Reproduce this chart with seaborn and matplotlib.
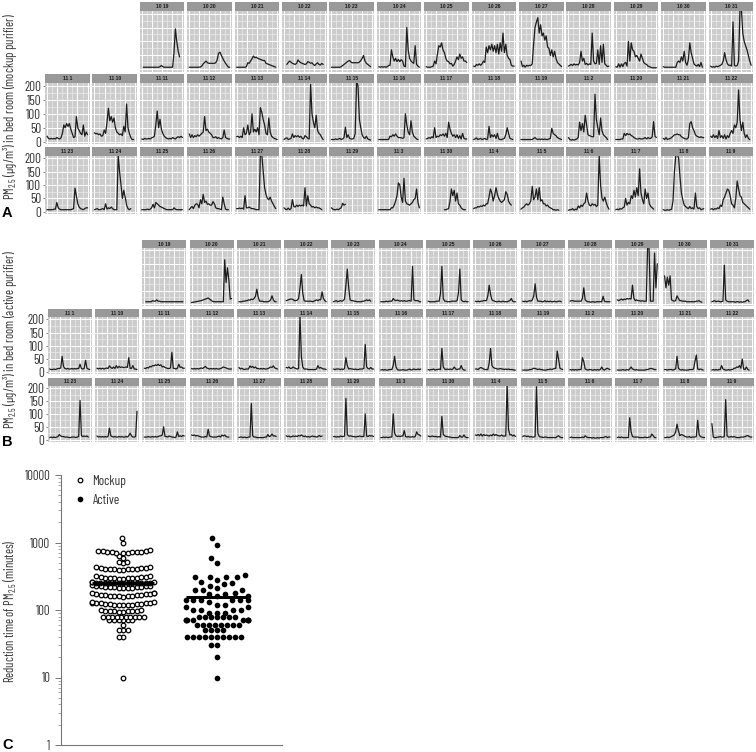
import numpy as np
import pandas as pd
import matplotlib
matplotlib.use('Agg')
import matplotlib.pyplot as plt
import seaborn as sns
from matplotlib.lines import Line2D
from matplotlib.patches import Rectangle
from matplotlib.ticker import NullFormatter, FixedLocator

N = None

# --- panel labels ---
days_row1 = ['10 19', '10 20', '10 21', '10 22', '10 23', '10 24', '10 25', '10 26', '10 27', '10 28', '10 29', '10 30', '10 31']
days_row2 = ['11 1', '11 10', '11 11', '11 12', '11 13', '11 14', '11 15', '11 16', '11 17', '11 18', '11 19', '11 2', '11 20', '11 21', '11 22']
days_row3 = ['11 23', '11 24', '11 25', '11 26', '11 27', '11 28', '11 29', '11 3', '11 30', '11 4', '11 5', '11 6', '11 7', '11 8', '11 9']

# --- A: mockup purifier ---
m1019 = [N,8,8,8,8,8,8,8,8,8,8,8,8,10,14,10,8,8,8,8,8,8,8,60,145,100,65,45,N,N]
m1020 = [8,8,8,8,8,8,8,8,9,12,20,25,30,24,22,22,22,22,22,24,35,58,62,50,40,30,22,15,8,8]
m1021 = [8,8,8,8,8,8,8,10,24,22,30,38,48,42,44,40,38,36,34,32,32,22,20,18,16,14,12,10,8,N]
m1022 = [N,N,18,25,30,26,22,20,18,22,34,28,24,22,20,18,20,28,26,22,24,18,14,20,24,18,16,22,18,N]
m1023 = [8,8,8,8,8,8,8,10,14,18,22,26,30,32,26,24,24,24,24,24,26,32,40,50,30,22,18,14,10,N]
m1024 = [10,8,10,8,10,8,10,14,15,70,45,30,40,28,36,28,35,30,12,10,150,70,40,30,25,22,85,18,12,8]
m1025 = [10,8,8,8,10,12,30,20,55,85,80,95,70,60,40,30,28,20,22,12,18,30,45,35,55,40,45,30,30,25]
m1026 = [12,10,18,15,20,15,20,30,25,80,60,85,70,90,65,85,60,90,55,95,65,130,60,90,50,40,35,15,12,12]
m1027 = [30,10,15,8,15,12,15,14,20,90,150,170,185,130,160,120,130,105,120,80,75,50,70,45,65,40,25,20,15,10]
m1028 = [12,15,18,14,20,16,18,16,25,65,30,40,18,22,16,20,18,130,30,20,22,70,18,85,25,90,20,15,10,12]
m1029 = [10,8,20,8,20,10,22,25,12,100,30,95,70,65,45,50,40,30,55,40,25,20,18,12,10,8,6,6,6,6]
m1030 = [10,8,8,8,8,8,8,8,8,8,25,30,25,45,30,65,25,15,35,95,60,40,20,15,12,18,10,25,8,N]
m1031 = [12,8,10,8,12,10,12,15,18,30,60,35,20,15,15,12,170,15,12,14,30,215,215,130,100,85,70,50,30,15]

m111 = [20,12,10,12,10,12,10,15,12,10,14,30,60,50,65,55,65,45,30,15,18,90,50,40,30,25,60,20,35,25]
m1110 = [32,28,30,25,28,20,22,42,30,70,120,75,90,70,85,50,35,30,25,28,22,55,35,135,50,30,15,8,8,N]
m1111 = [10,8,12,10,10,12,10,14,16,20,60,110,50,80,45,30,20,15,12,10,12,10,15,12,10,15,18,15,20,15]
m1112 = [28,15,25,15,22,18,25,20,25,30,35,90,40,45,35,30,25,15,15,18,12,15,12,10,15,42,15,12,10,10]
m1113 = [18,20,15,20,15,50,25,30,60,25,35,100,35,45,35,50,25,122,105,80,60,30,25,85,35,20,15,12,10,8]
m1114 = [8,12,14,8,10,12,28,15,22,18,22,16,20,12,10,22,18,12,10,205,100,70,50,95,40,30,25,15,8,N]
m1115 = [8,8,8,10,8,10,12,8,10,15,52,15,25,12,10,10,12,30,215,200,80,50,25,15,12,20,10,8,6,N]
m1116 = [8,8,8,8,8,8,8,8,20,18,25,20,28,20,15,15,14,12,15,100,60,35,25,75,35,20,15,10,8,N]
m1117 = [10,12,15,12,18,14,50,15,20,18,25,22,28,20,30,15,70,45,30,20,25,15,25,12,22,10,30,12,10,10]
m1118 = [8,10,14,8,10,12,8,10,12,8,10,55,15,25,18,25,12,30,10,8,8,10,12,25,50,30,12,10,8,N]
m1119 = [8,8,8,8,8,8,8,8,8,12,15,10,8,10,8,10,8,10,8,8,10,12,48,30,25,22,15,12,10,8]
m112 = [15,8,6,8,6,8,10,15,70,40,65,35,95,60,25,22,20,18,18,170,80,50,25,85,40,25,20,15,8,N]
m1120 = [8,8,8,8,10,10,30,22,30,25,28,22,20,15,12,10,10,12,10,10,12,15,10,15,12,12,18,72,20,15]
m1121 = [12,8,15,8,10,12,15,20,25,25,28,25,25,18,15,12,10,10,15,65,72,50,40,25,20,18,15,18,15,15]
m1122 = [20,15,25,15,22,12,40,15,22,12,25,10,22,15,30,40,30,60,50,70,185,80,40,70,30,15,25,12,8,N]

m1123 = [8,8,8,8,8,10,10,35,15,10,8,8,8,8,8,8,8,8,10,12,88,60,30,18,12,10,8,12,15,15]
m1124 = [8,10,12,8,8,10,12,8,30,10,15,12,18,12,8,8,8,210,150,100,50,80,55,25,12,8,12,N,N,N]
m1125 = [8,8,8,8,10,8,10,15,28,15,35,30,25,20,18,15,12,10,8,8,8,8,8,15,10,8,8,8,8,8]
m1126 = [8,15,20,12,25,30,28,15,45,30,65,35,40,28,30,25,25,38,30,15,12,12,10,8,55,30,10,8,8,N]
m1127 = [12,12,14,12,14,10,60,15,15,18,14,12,12,10,8,8,8,215,215,150,90,65,50,45,55,40,30,20,12,N]
m1128 = [15,10,8,14,8,12,45,20,18,25,20,25,22,25,22,90,22,60,30,25,18,20,15,18,15,15,12,8,N,N]
m1129 = [15,10,8,8,10,8,12,15,32,25,28,N,N,N,N,N,N,N,N,N,N,N,N,N,N,N,N,N,N,N]
m113 = [8,8,8,8,8,8,8,8,8,15,15,25,40,60,108,100,55,35,125,40,30,28,25,30,35,45,50,85,35,15]
m1130 = [N,N,N,N,N,N,N,N,N,N,N,N,N,8,8,10,12,40,85,60,80,40,70,30,25,15,10,8,8,N]
m114 = [12,15,15,20,18,22,20,25,22,30,30,55,85,70,40,60,90,65,50,40,35,40,45,75,65,40,30,25,N,N]
m115 = [10,15,18,25,30,25,30,40,95,45,55,85,45,90,40,45,30,30,22,25,18,15,12,8,8,6,8,6,N,N]
m116 = [6,8,8,12,6,10,8,22,15,25,20,30,35,70,40,25,22,30,25,28,20,25,210,100,50,40,55,35,20,10]
m117 = [8,10,8,12,10,15,18,50,25,35,30,60,50,80,55,90,60,160,70,45,30,85,50,70,30,20,15,10,N,N]
m118 = [8,6,6,8,6,8,10,40,150,210,215,200,130,70,45,25,20,15,12,20,12,15,10,70,20,12,15,8,10,12]
m119 = [10,12,8,12,10,15,12,25,20,45,55,70,85,80,60,30,25,15,50,115,85,60,55,35,30,25,20,15,10,N]

# --- B: active purifier ---
a1019 = [N,8,8,8,8,8,12,10,10,15,10,10,8,8,8,8,8,8,8,8,8,8,8,8,8,8,8,8,8,N]
a1020 = [5,6,7,8,9,10,11,12,14,16,18,20,22,18,14,10,8,8,8,8,8,8,8,8,165,80,135,90,18,20]
a1021 = [8,8,8,10,10,12,12,15,14,18,16,20,28,55,25,10,10,10,8,8,8,8,10,15,30,15,8,8,N,N]
a1022 = [12,14,16,18,18,16,12,12,14,20,60,110,40,12,10,10,10,10,10,8,10,12,15,12,16,15,45,20,12,8]
a1023 = [8,10,12,8,10,12,10,12,18,70,130,60,15,12,12,10,10,8,8,8,8,10,10,12,15,12,15,10,N,N]
a1024 = [8,8,8,8,10,8,10,10,10,20,14,12,14,12,10,12,10,12,10,10,12,12,10,140,15,12,12,12,8,8]
a1025 = [10,8,8,8,8,8,10,10,10,40,140,20,10,10,8,8,8,10,10,10,10,12,40,130,15,10,8,10,8,8]
a1026 = [10,8,10,8,10,10,12,12,12,30,70,35,15,12,10,8,8,10,8,8,10,8,8,8,10,12,20,10,8,8]
a1027 = [10,8,10,8,10,12,10,15,30,75,25,10,10,10,8,8,12,8,10,8,10,8,8,10,8,8,10,10,8,N]
a1028 = [10,12,12,10,10,10,10,10,10,20,60,15,10,8,8,6,8,8,6,8,8,8,8,8,28,10,8,8,8,8]
a1029 = [15,12,15,18,14,18,16,20,18,20,18,70,22,12,15,12,12,10,12,10,10,10,215,215,10,10,10,190,60,150]
a1030 = [105,60,100,70,105,15,12,10,12,30,20,12,12,10,10,10,8,8,8,8,8,8,8,10,10,12,8,6,N,N]
a1031 = [8,10,12,8,10,10,8,8,10,145,15,10,8,8,8,8,8,6,8,8,6,8,6,8,8,12,15,8,N,N]

a111 = [12,10,10,12,10,12,14,14,16,60,22,14,12,14,12,12,14,12,14,12,14,14,30,14,12,14,45,15,12,10]
a1110 = [15,12,15,12,15,12,14,16,14,24,18,14,20,14,25,16,22,18,20,18,18,20,18,55,15,14,25,12,12,10]
a1111 = [15,14,18,16,22,20,25,24,28,25,30,25,28,20,22,18,16,14,14,16,75,15,14,12,15,30,18,20,15,15]
a1112 = [14,12,14,12,14,12,14,16,14,18,22,16,14,12,14,12,14,12,14,12,12,14,16,20,18,16,14,12,12,12]
a1113 = [18,12,15,12,10,12,12,12,24,18,22,16,20,14,14,12,14,12,14,12,12,14,16,20,18,24,16,14,12,N]
a1114 = [18,16,20,14,15,20,16,14,12,14,215,60,20,12,12,12,10,10,10,10,10,10,12,25,15,18,14,12,12,10]
a1115 = [12,10,12,12,12,10,12,10,14,55,25,12,14,12,12,10,12,10,10,12,12,12,14,105,20,14,12,18,12,12]
a1116 = [8,10,8,10,8,8,10,10,10,25,60,20,10,8,8,8,10,8,8,8,10,12,8,10,12,10,10,12,10,12]
a1117 = [10,8,10,10,12,8,10,10,12,10,90,20,12,10,12,10,12,10,12,20,12,10,12,12,25,12,8,8,N,N]
a1118 = [12,12,10,15,18,15,12,10,10,10,35,90,25,18,15,14,12,12,14,12,12,10,12,10,12,10,10,10,8,8]
a1119 = [8,8,8,8,8,10,10,12,15,14,12,10,12,10,10,8,8,8,10,10,12,10,12,14,15,80,50,15,12,10]
a112 = [10,8,10,8,10,8,10,10,10,55,40,12,10,8,10,10,8,8,10,8,10,8,10,20,10,8,12,15,12,10]
a1120 = [8,8,8,8,10,8,8,10,8,12,20,12,10,8,10,8,8,8,8,8,8,10,10,12,14,14,12,10,10,N]
a1121 = [10,10,8,10,10,10,8,10,12,60,15,10,8,10,8,8,8,8,10,10,10,12,40,65,12,10,12,10,8,N]
a1122 = [8,10,8,10,8,10,10,25,12,10,8,8,10,8,10,10,15,15,20,18,25,15,50,12,10,20,10,8,N,N]

a1123 = [8,10,8,10,8,10,12,20,14,12,12,10,10,10,8,8,10,10,10,8,10,12,152,15,12,14,12,14,10,N]
a1124 = [14,10,12,10,12,10,12,10,12,45,15,12,10,12,10,10,12,10,12,10,10,12,10,15,25,15,10,10,12,110]
a1125 = [10,10,10,12,10,10,12,10,12,10,12,14,15,18,50,12,12,10,14,12,10,10,8,10,30,12,15,12,16,14]
a1126 = [18,16,18,14,16,14,12,10,10,10,12,10,40,14,12,10,10,10,10,12,14,10,18,14,18,12,10,10,N,N]
a1127 = [8,10,10,8,10,8,8,10,10,140,15,10,10,8,8,8,8,8,8,10,10,20,12,14,22,14,15,12,N,N]
a1128 = [15,12,14,10,12,14,12,14,12,16,14,18,14,12,14,10,12,10,12,14,12,12,10,12,16,12,14,N,N,N]
a1129 = [12,12,10,12,10,14,12,12,14,160,20,14,14,14,12,12,10,12,12,14,12,12,12,100,14,12,16,14,15,12]
a113 = [8,8,10,8,10,8,9,10,10,100,25,15,12,14,12,14,14,35,12,10,12,10,10,12,10,12,30,20,18,14]
a1130 = [14,12,12,14,12,12,12,10,12,10,90,20,15,12,12,10,10,8,8,8,8,8,8,16,10,10,18,10,8,8]
a114 = [18,16,20,15,22,14,20,16,18,16,14,18,15,22,16,20,16,15,14,18,14,14,14,215,40,18,20,14,18,12]
a115 = [12,15,14,12,14,10,12,10,10,12,205,25,12,10,10,8,10,10,8,8,8,8,8,8,8,12,15,10,8,8]
a116 = [8,10,8,8,8,8,8,8,8,10,8,15,10,8,8,8,6,8,6,6,8,6,8,8,8,10,12,8,10,10]
a117 = [8,10,8,10,8,8,8,8,8,85,30,12,10,10,10,10,8,8,8,8,10,8,8,10,10,22,15,8,8,N]
a118 = [8,8,10,8,10,12,15,18,30,60,35,15,20,18,15,12,10,10,12,8,10,10,10,12,75,20,12,10,8,8]
a119 = [62,10,8,8,10,10,12,10,10,12,155,15,10,10,12,10,12,10,8,8,8,10,10,10,12,14,16,12,10,10]

mock_rows = [
    [m1019, m1020, m1021, m1022, m1023, m1024, m1025, m1026, m1027, m1028, m1029, m1030, m1031],
    [m111, m1110, m1111, m1112, m1113, m1114, m1115, m1116, m1117, m1118, m1119, m112, m1120, m1121, m1122],
    [m1123, m1124, m1125, m1126, m1127, m1128, m1129, m113, m1130, m114, m115, m116, m117, m118, m119],
]
active_rows = [
    [a1019, a1020, a1021, a1022, a1023, a1024, a1025, a1026, a1027, a1028, a1029, a1030, a1031],
    [a111, a1110, a1111, a1112, a1113, a1114, a1115, a1116, a1117, a1118, a1119, a112, a1120, a1121, a1122],
    [a1123, a1124, a1125, a1126, a1127, a1128, a1129, a113, a1130, a114, a115, a116, a117, a118, a119],
]
day_rows = [days_row1, days_row2, days_row3]
pm_ticks = [0, 50, 100, 150, 200]

# --- C: reduction time, minutes ---
mock_bottom = [10, 40, 40, 50, 50, 50, 60, 70, 70, 70, 70, 70, 70, 80, 80, 80, 80, 80, 80, 80, 80, 80, 80]
mock_row_100 = [95, 95, 96, 96, 97, 97, 98, 98, 99, 100]
mock_row_140 = [118, 118, 119, 119, 120, 121, 122, 123, 124, 125, 126, 127, 128, 129, 130, 132]
mock_row_190 = [158, 159, 160, 161, 162, 163, 164, 165, 166, 168, 170, 172, 174, 176, 178, 178]
mock_row_230 = [212, 213, 214, 215, 216, 217, 218, 220, 222, 224, 226, 228, 230, 232]
mock_row_250 = [250, 250, 250, 251, 251, 252, 252, 253, 253, 254, 254, 255, 255, 256, 256, 258]
mock_row_350 = [290, 291, 293, 295, 297, 299, 301, 303, 305, 308, 311, 315, 320]
mock_row_470 = [395, 397, 399, 401, 403, 405, 408, 411, 414, 418, 424, 430, 440]
mock_row_590 = [500, 510, 520, 590, 640]
mock_row_850 = [700, 705, 710, 715, 720, 725, 730, 735, 740, 750, 760, 770]
mock_top = [1000, 1150]
reduction_mock = (mock_bottom + mock_row_100 + mock_row_140 + mock_row_190 + mock_row_230
                  + mock_row_350 + mock_row_470 + mock_row_590 + mock_row_850 + mock_top)
active_lower = [10, 20, 30, 30, 40, 40, 40, 40, 40, 40, 40, 40, 40, 40,
                50, 50, 50, 50, 60, 60, 60, 60, 60, 60, 60, 60,
                70, 70, 70, 70, 70, 70, 70, 70, 80, 80, 80, 80, 80, 80, 80]
active_upper = [90, 90, 90, 100, 100, 100, 100, 110, 110, 120, 120, 130, 140, 140, 140, 140, 140, 140,
                160, 160, 170, 170, 180, 200, 200, 200, 210, 230, 240, 250, 260, 280, 310, 310, 310, 310, 330,
                490, 580, 930, 1150]
median_mock = 250
median_active = 155
group_names = ['Mockup', 'Active']
group_pos = [0, 1.213]

W, H = 756, 752
GREY_TEXT = '#333333'
sns.set_style('white')
plt.rcParams['font.family'] = ['Barlow Condensed', 'Archivo Narrow', 'Liberation Sans', 'DejaVu Sans']
plt.rcParams['mathtext.default'] = 'regular'

fig = plt.figure(figsize=(W / 100, H / 100), dpi=100, facecolor='white')


def rect(x0, y0, x1, y1):
    # pixels of the picture -> figure fractions
    return [x0 / W, 1 - y1 / H, (x1 - x0) / W, (y1 - y0) / H]


def draw_panel(box, strip_top, day, values, show_y, ymax):
    x0, y0, x1, y1 = box
    fig.add_artist(Rectangle((x0 / W, 1 - y0 / H), (x1 - x0) / W, (y0 - strip_top) / H,
                             transform=fig.transFigure, fc='#999999', ec='none'))
    fig.text((x0 + x1) / 2 / W, 1 - (strip_top + y0) / 2 / H, day, ha='center', va='center',
             fontsize=3.6, fontweight='bold', color='#1a1a1a', family='Liberation Sans')
    ax = fig.add_axes(rect(x0, y0, x1, y1), facecolor='#cccccc')
    df = pd.DataFrame({'t': np.arange(len(values)), 'pm': pd.to_numeric(pd.Series(values))})
    sns.lineplot(data=df, x='t', y='pm', ax=ax, color='#1c1c1c', lw=0.9, estimator=None, errorbar=None, zorder=3)
    ax.set_xlim(-1.45, 30.45)
    ax.set_ylim(-8, ymax)
    ax.set_xlabel('')
    ax.set_ylabel('')
    ax.xaxis.set_major_locator(FixedLocator([0, 7.25, 14.5, 21.75, 29]))
    ax.xaxis.set_minor_locator(FixedLocator([3.625, 10.875, 18.125, 25.375]))
    ax.yaxis.set_major_locator(FixedLocator(pm_ticks))
    ax.yaxis.set_minor_locator(FixedLocator([25, 75, 125, 175]))
    ax.grid(which='major', color='white', lw=0.75)
    ax.grid(which='minor', color='#ebebeb', lw=0.5)
    ax.set_axisbelow(True)
    for s in ax.spines.values():
        s.set_visible(False)
    ax.tick_params(axis='x', which='both', length=0, labelbottom=False)
    ax.tick_params(axis='y', which='minor', length=0)
    if show_y:
        ax.tick_params(axis='y', which='major', length=1.5, width=0.5, color='#555555', pad=1,
                       labelsize=9.5, labelcolor=GREY_TEXT, left=True)
    else:
        ax.tick_params(axis='y', which='major', length=0, labelleft=False)


def draw_block(rows, left, pitch, width, geom, ymax):
    for r, (day_row, val_row) in enumerate(zip(day_rows, rows)):
        strip_top, panel_top, panel_bot = geom[r]
        first_col = 15 - len(day_row)
        for i, (day, values) in enumerate(zip(day_row, val_row)):
            c = first_col + i
            x0 = left + pitch * c
            draw_panel((x0, panel_top, x0 + width, panel_bot), strip_top, day, values, c == 0, ymax)


def swarm_dots(ax, values, pos, swarm_size, **scatter_kws):
    # swarm at swarm_size to get the spots, then redraw the dots at their real size:
    # the original packs its circles tighter or looser than a plain swarm would
    df = pd.DataFrame({'pos': pos, 'minutes': values})
    sns.swarmplot(data=df, x='pos', y='minutes', ax=ax, native_scale=True, orient='x', log_scale=(False, True),
                  color='white', linewidth=0, size=swarm_size, warn_thresh=1)
    ax.set_xlim(-0.804, 2.05)
    ax.set_ylim(1, 10000)
    fig.canvas.draw()
    swarm = ax.collections[-1]
    xy = np.array(swarm.get_offsets())
    swarm.remove()
    ax.scatter(xy[:, 0], xy[:, 1], **scatter_kws)


# A
draw_block(mock_rows, 45.0, 47.4, 44.6, [(2.3, 11, 71.7), (74.3, 83.3, 144), (146.7, 155.7, 214)], 209)
# B
draw_block(active_rows, 47.7, 47.3, 44.0, [(240, 248.3, 306), (308.7, 317.3, 374.3), (377.7, 386, 441.7)], 208)

fig.text(10.5 / W, 1 - 107 / H, r'PM$_{2.5}$ (μg/m³) in bed room (mockup purifier)', rotation=90,
         ha='center', va='center', fontsize=9, color=GREY_TEXT)
fig.text(10.5 / W, 1 - 340 / H, r'PM$_{2.5}$ (μg/m³) in bed room (active purifier)', rotation=90,
         ha='center', va='center', fontsize=9, color=GREY_TEXT)
for letter, py in [('A', 213), ('B', 442), ('C', 745)]:
    fig.text(2 / W, 1 - py / H, letter, ha='left', va='center', fontsize=10.5, fontweight='bold',
             color='black', family='Liberation Sans')

# C
ax = fig.add_axes(rect(60.7, 475, 282, 745), facecolor='white')
# native_scale: one x unit = 77.5 px, so the 0.8 wide swarm limit gives the 62 px of the picture
mock_kws = dict(s=3.3 ** 2, facecolor='white', edgecolor='black', linewidth=0.9, zorder=3)
swarm_dots(ax, reduction_mock, group_pos[0], 3.1, **mock_kws)
swarm_dots(ax, mock_row_250, group_pos[0], 3.1, **mock_kws)
swarm_dots(ax, active_lower, group_pos[1], 4.1, s=4.1 ** 2, facecolor='black', linewidth=0, zorder=3)
swarm_dots(ax, active_upper, group_pos[1], 5.6, s=4.1 ** 2, facecolor='black', linewidth=0, zorder=3)
ax.hlines([median_mock, median_active], [group_pos[0] - 0.4, group_pos[1] - 0.4],
          [group_pos[0] + 0.4, group_pos[1] + 0.4], color='black', lw=2.2, zorder=5)
ax.set_xlim(-0.804, 2.05)
ax.set_ylim(1, 10000)
ax.set_xlabel('')
ax.set_ylabel('')
ax.set_xticks([])
ax.set_yticks([1, 10, 100, 1000, 10000])
ax.set_yticklabels(['1', '10', '100', '1000', '10000'])
ax.yaxis.set_minor_formatter(NullFormatter())
ax.tick_params(axis='y', which='major', left=True, length=4, width=0.7, color='#777777', pad=3.5,
               labelsize=9.2, labelcolor=GREY_TEXT)
ax.tick_params(axis='y', which='minor', left=True, length=2, width=0.6, color='#999999')
for side in ['top', 'right']:
    ax.spines[side].set_visible(False)
for side in ['left', 'bottom']:
    ax.spines[side].set_color('#777777')
    ax.spines[side].set_linewidth(0.8)
fig.text(10.5 / W, 1 - 611 / H, r'Reduction time of PM$_{2.5}$ (minutes)', rotation=90,
         ha='center', va='center', fontsize=9, color=GREY_TEXT)
handles = [Line2D([], [], ls='', marker='o', mfc='white', mec='black', mew=0.9, ms=3.3, label=group_names[0]),
           Line2D([], [], ls='', marker='o', mfc='black', mec='black', mew=0, ms=4.1, label=group_names[1])]
leg = ax.legend(handles=handles, loc='upper left', bbox_to_anchor=(0.045, 1.0), frameon=False, fontsize=9.5,
                handletextpad=0.25, labelspacing=0.45, handlelength=1.4, borderaxespad=0, borderpad=0)
for t in leg.get_texts():
    t.set_color(GREY_TEXT)

fig.savefig('out.png', dpi=100, facecolor='white')
